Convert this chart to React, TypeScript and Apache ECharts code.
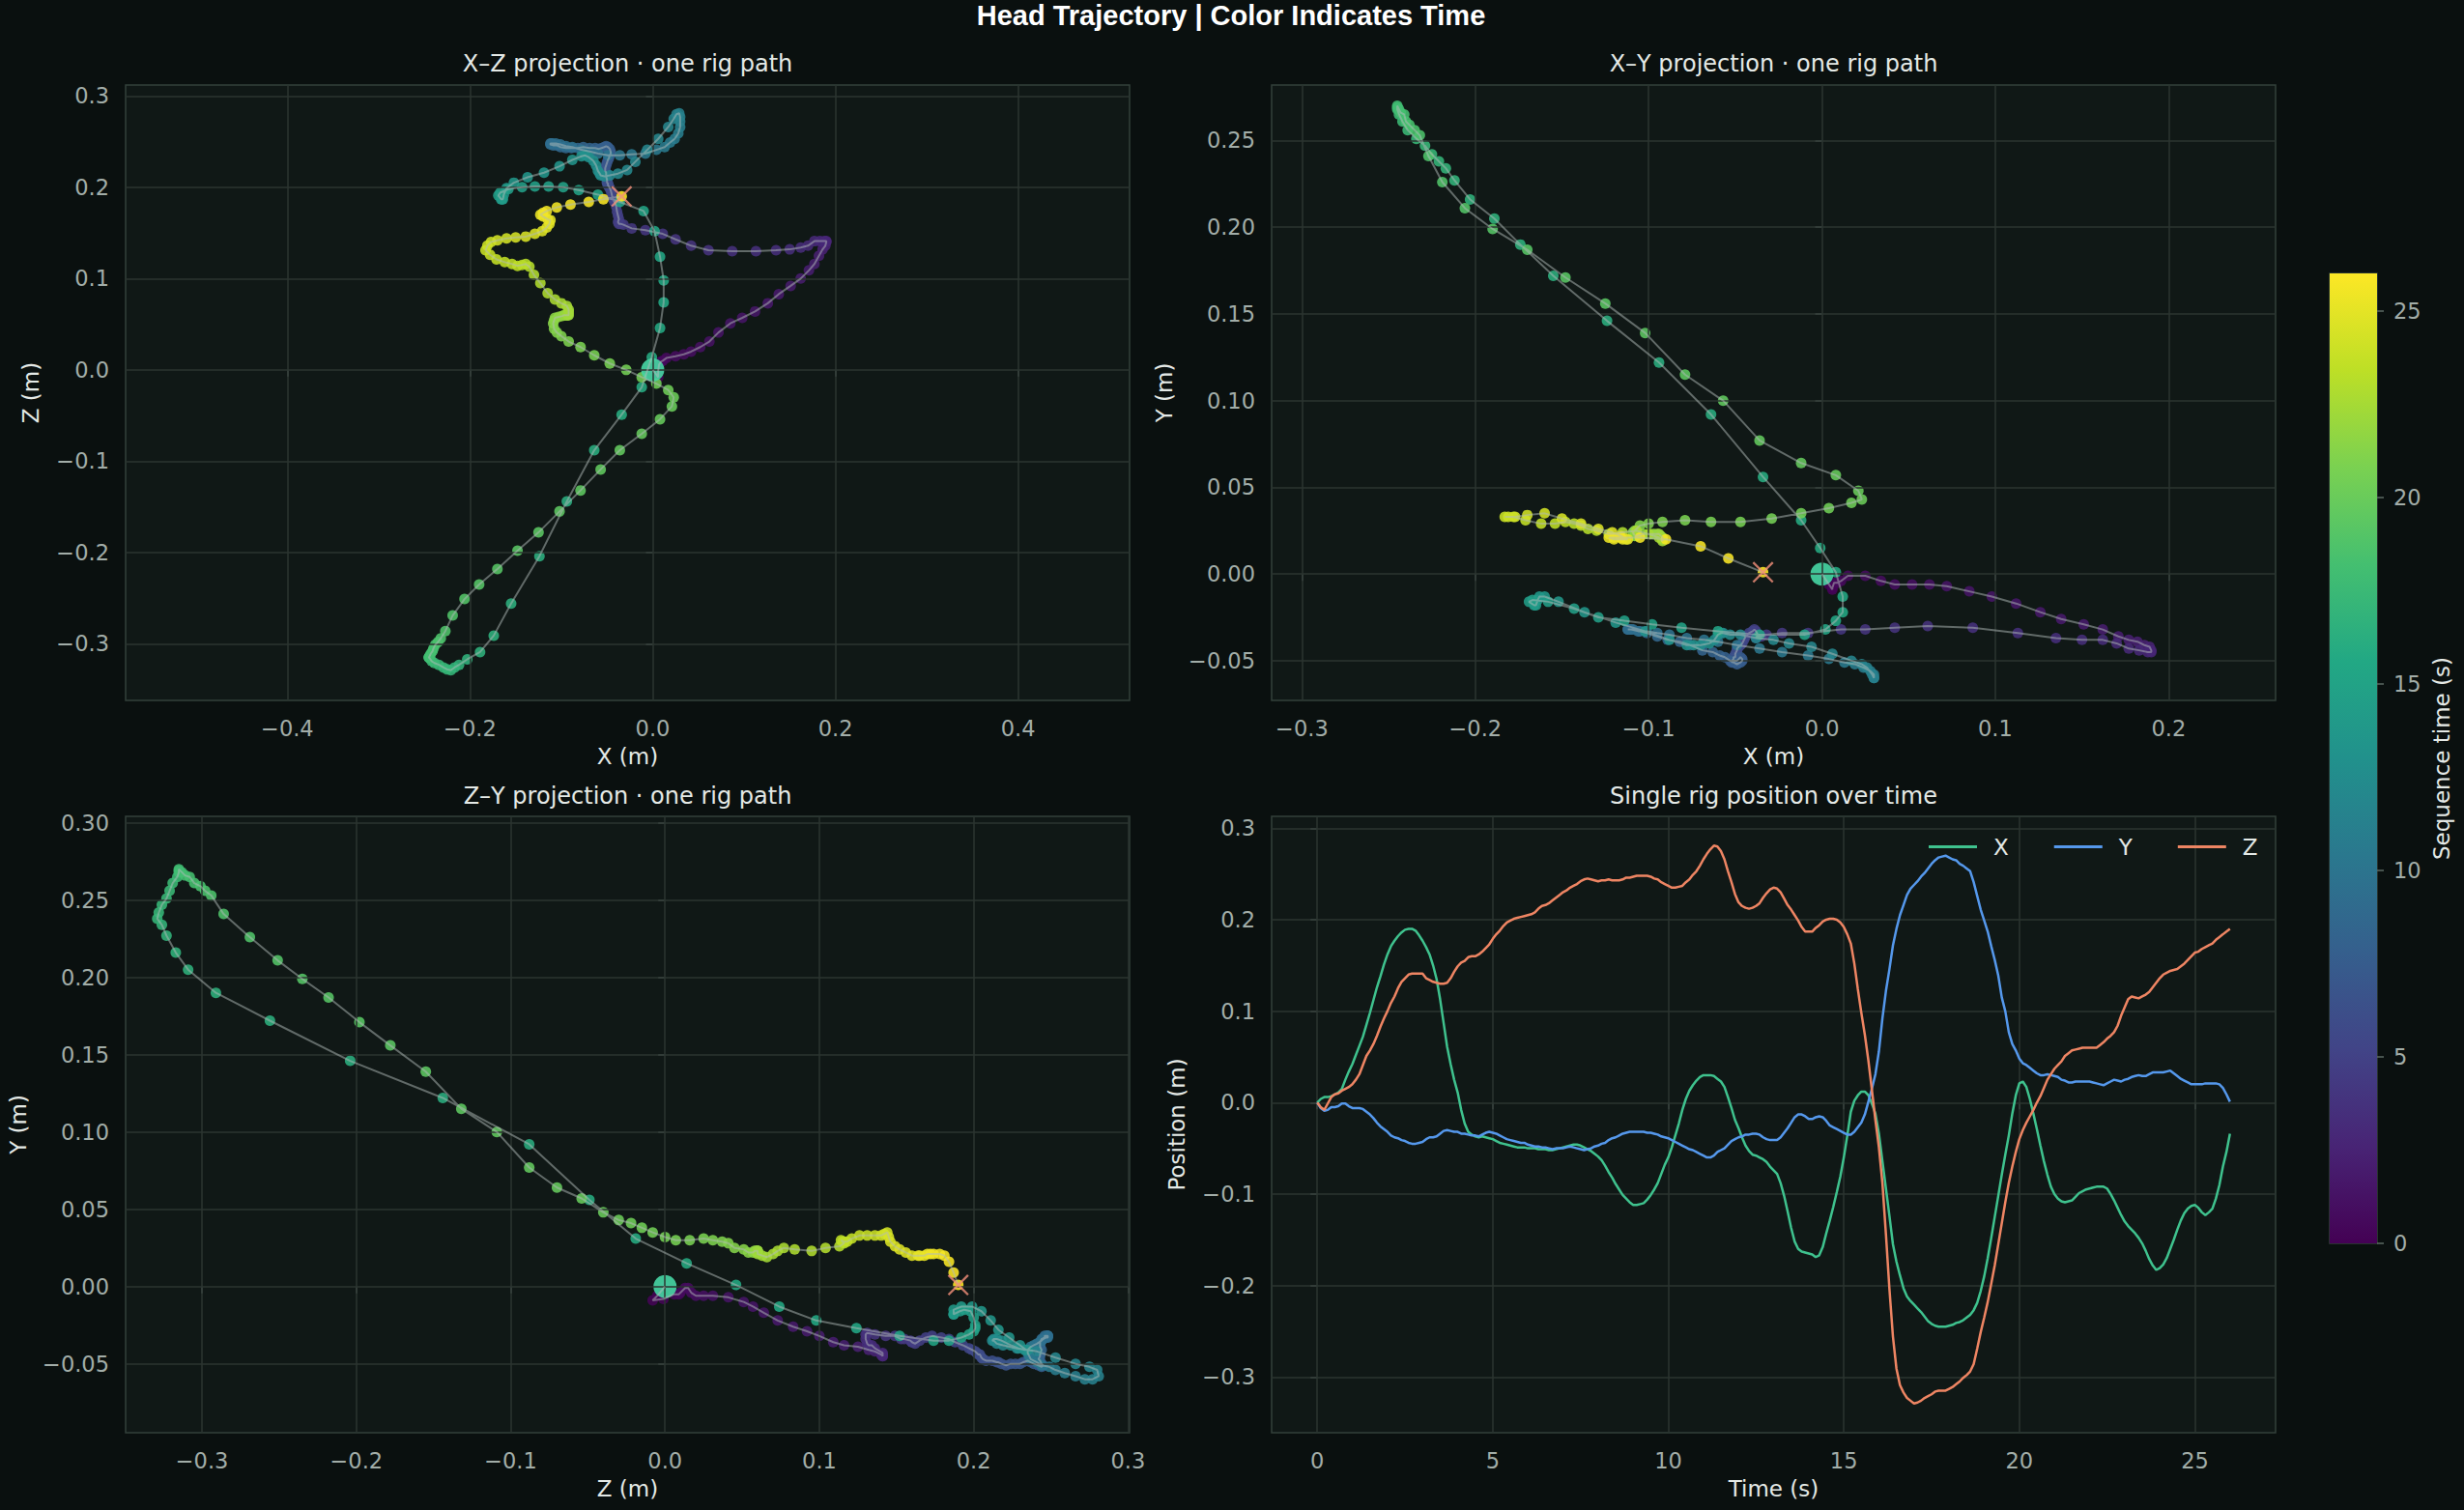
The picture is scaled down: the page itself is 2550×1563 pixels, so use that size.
import React, { useEffect, useRef } from "react";
import * as echarts from "echarts";

// Head-rig track, sampled every SAMPLE_STEP_S seconds from t = 0 to t = 26 s (metres)
const SAMPLE_STEP_S = 0.1;

const posX = [
  0, 0.004, 0.006, 0.006, 0.007, 0.009, 0.011, 0.015, 0.025, 0.034,
  0.042, 0.052, 0.062, 0.072, 0.085, 0.098, 0.112, 0.126, 0.138, 0.151,
  0.162, 0.171, 0.177, 0.182, 0.186, 0.189, 0.19, 0.19, 0.188, 0.183,
  0.177, 0.17, 0.162, 0.15, 0.135, 0.113, 0.087, 0.061, 0.042, 0.025,
  0.011, -0.008, -0.023, -0.032, -0.035, -0.037, -0.038, -0.037, -0.038, -0.039,
  -0.04, -0.042, -0.044, -0.045, -0.046, -0.047, -0.048, -0.049, -0.049, -0.049,
  -0.05, -0.05, -0.05, -0.051, -0.051, -0.051, -0.052, -0.052, -0.051, -0.05,
  -0.049, -0.048, -0.047, -0.046, -0.046, -0.047, -0.049, -0.051, -0.053, -0.056,
  -0.059, -0.063, -0.069, -0.076, -0.082, -0.089, -0.095, -0.101, -0.105, -0.109,
  -0.112, -0.112, -0.111, -0.11, -0.106, -0.101, -0.095, -0.088, -0.078, -0.068,
  -0.06, -0.049, -0.036, -0.023, -0.008, 0.004, 0.013, 0.019, 0.024, 0.028,
  0.03, 0.03, 0.03, 0.029, 0.026, 0.023, 0.017, 0.006, -0.006, -0.019,
  -0.028, -0.038, -0.047, -0.053, -0.057, -0.058, -0.06, -0.062, -0.065, -0.07,
  -0.074, -0.078, -0.088, -0.102, -0.119, -0.137, -0.152, -0.16, -0.163, -0.164,
  -0.165, -0.166, -0.169, -0.167, -0.158, -0.143, -0.129, -0.114, -0.098, -0.081,
  -0.06, -0.036, -0.01, 0.002, 0.008, 0.012, 0.012, 0.008, -0.001, -0.012,
  -0.034, -0.064, -0.094, -0.124, -0.155, -0.174, -0.189, -0.203, -0.212, -0.217,
  -0.221, -0.225, -0.229, -0.234, -0.239, -0.242, -0.244, -0.245, -0.245, -0.245,
  -0.244, -0.243, -0.241, -0.24, -0.238, -0.235, -0.232, -0.227, -0.219, -0.206,
  -0.19, -0.17, -0.148, -0.125, -0.102, -0.079, -0.057, -0.036, -0.012, 0.008,
  0.021, 0.023, 0.017, 0.004, -0.012, -0.029, -0.047, -0.064, -0.079, -0.092,
  -0.1, -0.105, -0.108, -0.109, -0.108, -0.107, -0.103, -0.099, -0.097, -0.095,
  -0.094, -0.093, -0.092, -0.092, -0.092, -0.094, -0.1, -0.107, -0.115, -0.123,
  -0.13, -0.135, -0.139, -0.143, -0.148, -0.154, -0.162, -0.171, -0.178, -0.183,
  -0.181, -0.177, -0.17, -0.16, -0.15, -0.139, -0.129, -0.121, -0.116, -0.113,
  -0.112, -0.115, -0.12, -0.123, -0.12, -0.116, -0.105, -0.09, -0.07, -0.054,
  -0.034,
];

const posY = [
  0, -0.006, -0.009, -0.008, -0.005, -0.005, -0.004, -0.001, -0.001, -0.004,
  -0.006, -0.006, -0.006, -0.007, -0.01, -0.013, -0.017, -0.022, -0.026, -0.029,
  -0.032, -0.036, -0.038, -0.039, -0.041, -0.042, -0.044, -0.045, -0.045, -0.044,
  -0.043, -0.04, -0.038, -0.038, -0.037, -0.034, -0.031, -0.03, -0.031, -0.032,
  -0.032, -0.034, -0.034, -0.035, -0.036, -0.036, -0.037, -0.035, -0.033, -0.032,
  -0.033, -0.034, -0.036, -0.038, -0.04, -0.041, -0.042, -0.043, -0.044, -0.044,
  -0.046, -0.047, -0.048, -0.048, -0.049, -0.049, -0.05, -0.051, -0.05, -0.05,
  -0.05, -0.049, -0.048, -0.049, -0.05, -0.051, -0.052, -0.051, -0.05, -0.048,
  -0.047, -0.045, -0.044, -0.041, -0.039, -0.038, -0.036, -0.034, -0.033, -0.032,
  -0.032, -0.032, -0.032, -0.032, -0.033, -0.033, -0.034, -0.035, -0.037, -0.038,
  -0.039, -0.041, -0.043, -0.045, -0.047, -0.049, -0.051, -0.052, -0.054, -0.056,
  -0.058, -0.06, -0.06, -0.058, -0.054, -0.052, -0.05, -0.046, -0.042, -0.04,
  -0.038, -0.037, -0.035, -0.035, -0.034, -0.034, -0.035, -0.038, -0.04, -0.041,
  -0.041, -0.041, -0.038, -0.033, -0.028, -0.022, -0.016, -0.013, -0.013, -0.015,
  -0.018, -0.018, -0.016, -0.015, -0.016, -0.02, -0.025, -0.027, -0.029, -0.031,
  -0.033, -0.035, -0.035, -0.032, -0.027, -0.022, -0.013, 0.001, 0.015, 0.031,
  0.056, 0.092, 0.122, 0.146, 0.172, 0.19, 0.205, 0.216, 0.227, 0.234,
  0.238, 0.242, 0.247, 0.251, 0.256, 0.261, 0.265, 0.268, 0.269, 0.27,
  0.268, 0.266, 0.265, 0.261, 0.259, 0.256, 0.253, 0.241, 0.226, 0.211,
  0.199, 0.187, 0.171, 0.156, 0.139, 0.115, 0.1, 0.077, 0.064, 0.057,
  0.048, 0.043, 0.041, 0.038, 0.035, 0.032, 0.03, 0.03, 0.031, 0.03,
  0.029, 0.028, 0.025, 0.024, 0.022, 0.022, 0.023, 0.023, 0.023, 0.023,
  0.023, 0.022, 0.021, 0.02, 0.019, 0.021, 0.023, 0.025, 0.024, 0.023,
  0.025, 0.026, 0.028, 0.029, 0.03, 0.029, 0.029, 0.031, 0.033, 0.033,
  0.033, 0.033, 0.034, 0.035, 0.032, 0.029, 0.026, 0.024, 0.022, 0.02,
  0.02, 0.02, 0.02, 0.021, 0.021, 0.021, 0.021, 0.02, 0.016, 0.009,
  0.001,
];

const posZ = [
  0, -0.005, -0.008, -0.001, 0.006, 0.009, 0.01, 0.013, 0.015, 0.017,
  0.02, 0.025, 0.031, 0.041, 0.051, 0.057, 0.064, 0.073, 0.083, 0.092,
  0.1, 0.109, 0.116, 0.125, 0.132, 0.136, 0.14, 0.141, 0.141, 0.141,
  0.141, 0.136, 0.134, 0.132, 0.131, 0.13, 0.13, 0.131, 0.136, 0.143,
  0.149, 0.153, 0.155, 0.159, 0.16, 0.16, 0.162, 0.165, 0.169, 0.173,
  0.179, 0.184, 0.188, 0.193, 0.197, 0.199, 0.201, 0.202, 0.203, 0.204,
  0.205, 0.206, 0.208, 0.212, 0.215, 0.216, 0.218, 0.221, 0.224, 0.227,
  0.23, 0.232, 0.235, 0.237, 0.239, 0.242, 0.244, 0.245, 0.244, 0.243,
  0.242, 0.243, 0.243, 0.244, 0.243, 0.243, 0.243, 0.244, 0.246, 0.246,
  0.247, 0.248, 0.248, 0.248, 0.248, 0.247, 0.245, 0.244, 0.241, 0.239,
  0.237, 0.235, 0.235, 0.236, 0.237, 0.241, 0.244, 0.249, 0.253, 0.259,
  0.266, 0.272, 0.277, 0.281, 0.28, 0.275, 0.266, 0.253, 0.241, 0.228,
  0.219, 0.215, 0.213, 0.212, 0.213, 0.215, 0.218, 0.224, 0.229, 0.233,
  0.235, 0.234, 0.23, 0.223, 0.216, 0.211, 0.205, 0.199, 0.192, 0.187,
  0.187, 0.187, 0.191, 0.194, 0.198, 0.2, 0.201, 0.201, 0.2, 0.197,
  0.192, 0.184, 0.174, 0.152, 0.124, 0.098, 0.074, 0.046, 0.014, -0.019,
  -0.049, -0.088, -0.144, -0.204, -0.256, -0.291, -0.309, -0.317, -0.323, -0.326,
  -0.329, -0.328, -0.326, -0.323, -0.321, -0.319, -0.316, -0.315, -0.315, -0.315,
  -0.313, -0.311, -0.308, -0.305, -0.301, -0.298, -0.294, -0.286, -0.269, -0.251,
  -0.235, -0.218, -0.198, -0.178, -0.155, -0.132, -0.109, -0.088, -0.07, -0.054,
  -0.04, -0.03, -0.022, -0.015, -0.008, 0, 0.007, 0.016, 0.025, 0.031,
  0.037, 0.041, 0.045, 0.051, 0.054, 0.057, 0.058, 0.059, 0.06, 0.06,
  0.06, 0.06, 0.06, 0.063, 0.066, 0.07, 0.073, 0.077, 0.084, 0.095,
  0.104, 0.113, 0.116, 0.115, 0.114, 0.116, 0.118, 0.121, 0.126, 0.131,
  0.136, 0.14, 0.142, 0.144, 0.145, 0.146, 0.149, 0.152, 0.156, 0.16,
  0.164, 0.165, 0.168, 0.17, 0.172, 0.174, 0.178, 0.181, 0.184, 0.187,
  0.19,
];

// Tick positions for each axis
const xzTicksX = [-0.4, -0.2, 0, 0.2, 0.4];
const xzTicksZ = [-0.3, -0.2, -0.1, 0, 0.1, 0.2, 0.3];
const xyTicksX = [-0.3, -0.2, -0.1, 0, 0.1, 0.2];
const xyTicksY = [-0.05, 0, 0.05, 0.1, 0.15, 0.2, 0.25];
const zyTicksZ = [-0.3, -0.2, -0.1, 0, 0.1, 0.2, 0.3];
const zyTicksY = [-0.05, 0, 0.05, 0.1, 0.15, 0.2, 0.25, 0.3];
const timeTicks = [0, 5, 10, 15, 20, 25];
const positionTicks = [-0.3, -0.2, -0.1, 0, 0.1, 0.2, 0.3];
const colorbarTicks = [0, 5, 10, 15, 20, 25];

const seriesNames = ["X", "Y", "Z"];

const VIRIDIS = [
  "#440154", "#482475", "#414487", "#355f8d", "#2a788e", "#21918c",
  "#22a884", "#44bf70", "#7ad151", "#bddf26", "#fde725",
];

const FONT = "'DejaVu Sans', sans-serif";
const FIG_BG = "#0a100f";
const PLOT_BG = "#101816";
const GRID_LINE = "#2b3531";
const SPINE = "#33403b";
const TICK_COLOR = "#5d6a65";
const TICK_LABEL = "#a2ada8";
const TEXT = "#e4e9e6";
const LINE_COLORS = ["#3fc28e", "#5598ec", "#ee8563"];
const START_COLOR = "#45d3a2";
const END_COLOR = "#f4907a";
// Thin-armed "x" glyph for the final sample
const CROSS =
  "path://M1.5,0L10,8.5L18.5,0L20,1.5L11.5,10L20,18.5L18.5,20L10,11.5L1.5,20L0,18.5L8.5,10L0,1.5Z";

const fmt = (d: number) => (v: number | string) => {
  const s = Number(v).toFixed(d);
  if (s.startsWith("-")) {
    return parseFloat(s) === 0 ? s.slice(1) : "\u2212" + s.slice(1);
  }
  return s;
};

function valueAxis(
  gridIndex: number,
  min: number,
  max: number,
  ticks: number[],
  decimals: number,
  name: string,
  nameGap: number,
  vertical: boolean
) {
  return {
    type: "value",
    gridIndex,
    min,
    max,
    name,
    nameLocation: "middle",
    nameGap,
    nameRotate: vertical ? 90 : 0,
    nameTextStyle: { color: TEXT, fontFamily: FONT, fontSize: 23 },
    axisLine: { show: false },
    axisTick: {
      show: true,
      length: 7,
      customValues: ticks,
      lineStyle: { color: TICK_COLOR, width: 1.5 },
    },
    axisLabel: {
      show: true,
      customValues: ticks,
      formatter: fmt(decimals),
      color: TICK_LABEL,
      fontFamily: FONT,
      fontSize: 22.5,
      margin: 17,
    },
    splitLine: { show: false },
  };
}

function gridLines(xTicks: number[], yTicks: number[], z: number) {
  return {
    silent: true,
    symbol: ["none", "none"],
    z,
    animation: false,
    label: { show: false },
    emphasis: { disabled: true },
    lineStyle: { color: GRID_LINE, width: 1.5, type: "solid" },
    data: [
      ...xTicks.map((v) => ({ xAxis: v })),
      ...yTicks.map((v) => ({ yAxis: v })),
    ],
  };
}

export default function App() {
  const ref = useRef<HTMLDivElement>(null);

  useEffect(() => {
    if (!ref.current) return;
    const chart = echarts.init(ref.current, null, { renderer: "svg" });

    const times = posX.map((_, i) => Number((i * SAMPLE_STEP_S).toFixed(1)));

    const grids = [
      { left: 130, top: 88, width: 1039, height: 637 },
      { left: 1316, top: 88, width: 1039, height: 637 },
      { left: 130, top: 845, width: 1039, height: 638 },
      { left: 1316, top: 845, width: 1039, height: 638 },
      { left: 2411, top: 283, width: 49, height: 1004 },
    ].map((g) => ({
      ...g,
      show: true,
      backgroundColor: PLOT_BG,
      borderColor: SPINE,
      borderWidth: 1.5,
      containLabel: false,
    }));

    const panels = [
      {
        a: posX, b: posZ,
        x: [-0.577, 0.522, xzTicksX, 1, "X (m)"],
        y: [-0.362, 0.312, xzTicksZ, 1, "Z (m)", 87],
      },
      {
        a: posX, b: posY,
        x: [-0.3175, 0.2617, xyTicksX, 1, "X (m)"],
        y: [-0.0729, 0.282, xyTicksY, 2, "Y (m)", 100],
      },
      {
        a: posZ, b: posY,
        x: [-0.3495, 0.301, zyTicksZ, 1, "Z (m)"],
        y: [-0.0946, 0.3042, zyTicksY, 2, "Y (m)", 100],
      },
    ] as any[];

    const xAxes: any[] = [];
    const yAxes: any[] = [];
    const series: any[] = [];
    const colouredSeries: number[] = [];

    panels.forEach((p, k) => {
      xAxes.push(valueAxis(k, p.x[0], p.x[1], p.x[2], p.x[3], p.x[4], 46, false));
      yAxes.push(valueAxis(k, p.y[0], p.y[1], p.y[2], p.y[3], p.y[4], p.y[5], true));
      const pts = p.a.map((v: number, i: number) => [v, p.b[i], times[i]]);

      colouredSeries.push(series.length);
      series.push({
        type: "scatter",
        xAxisIndex: k,
        yAxisIndex: k,
        data: pts,
        symbolSize: 11,
        itemStyle: { opacity: 0.88 },
        silent: true,
        z: 2,
      });
      series.push({
        type: "scatter",
        xAxisIndex: k,
        yAxisIndex: k,
        data: [pts[0]],
        symbolSize: 24,
        itemStyle: { color: START_COLOR, opacity: 0.92 },
        silent: true,
        z: 2,
      });
      series.push({
        type: "line",
        xAxisIndex: k,
        yAxisIndex: k,
        data: [],
        silent: true,
        z: 3,
        markLine: gridLines(p.x[2], p.y[2], 3),
      });
      series.push({
        type: "line",
        xAxisIndex: k,
        yAxisIndex: k,
        data: pts,
        symbol: "none",
        showSymbol: false,
        lineStyle: { color: "rgba(178,188,185,0.5)", width: 2 },
        silent: true,
        z: 4,
      });
      series.push({
        type: "scatter",
        xAxisIndex: k,
        yAxisIndex: k,
        data: [pts[pts.length - 1]],
        symbol: CROSS,
        symbolSize: 22,
        itemStyle: { color: END_COLOR },
        silent: true,
        z: 5,
      });
    });

    // Position over time
    xAxes.push(valueAxis(3, -1.3, 27.3, timeTicks, 0, "Time (s)", 46, false));
    yAxes.push(valueAxis(3, -0.361, 0.313, positionTicks, 1, "Position (m)", 87, true));
    series.push({
      type: "line",
      xAxisIndex: 3,
      yAxisIndex: 3,
      data: [],
      silent: true,
      z: 1,
      markLine: gridLines(timeTicks, positionTicks, 1),
    });
    [posX, posY, posZ].forEach((arr, j) => {
      series.push({
        name: seriesNames[j],
        type: "line",
        xAxisIndex: 3,
        yAxisIndex: 3,
        data: arr.map((v, i) => [times[i], v]),
        symbol: "none",
        showSymbol: false,
        color: LINE_COLORS[j],
        lineStyle: { color: LINE_COLORS[j], width: 2.5 },
        silent: true,
        z: 2,
      });
    });

    // Colour bar for sequence time
    xAxes.push({ type: "category", gridIndex: 4, data: ["t"], show: false });
    yAxes.push({
      ...valueAxis(4, 0, 26, colorbarTicks, 0, "Sequence time (s)", 55, true),
      position: "right",
    });
    series.push({
      type: "bar",
      xAxisIndex: 4,
      yAxisIndex: 4,
      data: [26],
      barWidth: "100%",
      silent: true,
      itemStyle: {
        color: new echarts.graphic.LinearGradient(
          0, 1, 0, 0,
          VIRIDIS.map((c, i) => ({ offset: i / (VIRIDIS.length - 1), color: c }))
        ),
      },
    });

    const titleStyle = (text: string, x: number, y: number) => ({
      type: "text",
      x,
      y,
      silent: true,
      style: {
        text,
        fill: TEXT,
        font: `24px ${FONT}`,
        textAlign: "center",
        align: "center",
        textVerticalAlign: "middle",
        verticalAlign: "middle",
      },
    });

    chart.setOption({
      animation: false,
      backgroundColor: FIG_BG,
      grid: grids,
      xAxis: xAxes,
      yAxis: yAxes,
      visualMap: {
        type: "continuous",
        show: false,
        min: 0,
        max: 26,
        dimension: 2,
        seriesIndex: colouredSeries,
        inRange: { color: VIRIDIS },
      },
      legend: {
        data: seriesNames,
        left: 1991,
        top: 860,
        icon: "rect",
        itemWidth: 50,
        itemHeight: 3,
        itemGap: 47,
        selectedMode: false,
        textStyle: {
          color: TEXT,
          fontFamily: FONT,
          fontSize: 23,
          padding: [0, 0, 0, 12],
        },
      },
      graphic: [
        {
          type: "text",
          x: 1274,
          y: 16,
          silent: true,
          style: {
            text: "Head Trajectory | Color Indicates Time",
            fill: "#ffffff",
            font: `bold 29px 'Liberation Sans', Arial, sans-serif`,
            textAlign: "center",
            align: "center",
            textVerticalAlign: "middle",
            verticalAlign: "middle",
          },
        },
        titleStyle("X\u2013Z projection \u00b7 one rig path", 649.5, 66),
        titleStyle("X\u2013Y projection \u00b7 one rig path", 1835.5, 66),
        titleStyle("Z\u2013Y projection \u00b7 one rig path", 649.5, 824),
        titleStyle("Single rig position over time", 1835.5, 824),
      ],
      series,
    });

    return () => chart.dispose();
  }, []);

  return (
    <div
      ref={ref}
      style={{
        position: "absolute",
        left: 0,
        top: 0,
        width: 2550,
        height: 1563,
        background: FIG_BG,
      }}
    />
  );
}
